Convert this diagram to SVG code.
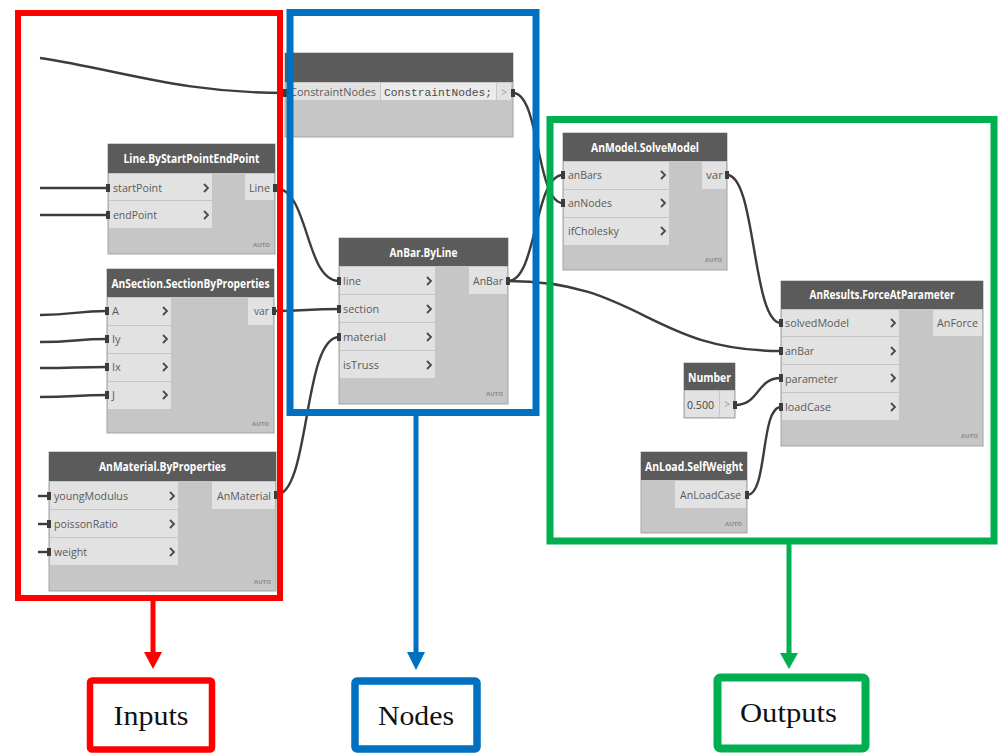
<svg xmlns="http://www.w3.org/2000/svg" width="998" height="753" viewBox="0 0 998 753">
<defs>
<style>
.bg{fill:#ffffff}
.body{fill:#c6c6c6;stroke:#a3a3a3;stroke-width:1}
.hdr{fill:#5b5b5b}
.port{fill:#e2e2e2}
.code{fill:#ebebeb}
.ht{font-family:"Open Sans",sans-serif;font-size:12px;font-weight:bold;fill:#ffffff;text-anchor:middle}
.pt{font-family:"Open Sans",sans-serif;font-size:11px;fill:#5a5a5a}
.mono{font-family:"Liberation Mono",monospace;font-size:11px;fill:#4a4a4a}
.gt{font-family:"Open Sans",sans-serif;font-size:10px;fill:#9a9a9a;text-anchor:middle}
.auto{font-family:"Open Sans",sans-serif;font-size:6px;font-weight:bold;fill:#8a8a8a;text-anchor:end}
.chev{fill:none;stroke:#4a4a4a;stroke-width:1.8}
.wire{fill:none;stroke:#3c3c3c;stroke-width:2.4}
.nub{fill:#3c3c3c}
.lbl{font-family:"Liberation Serif",serif;font-size:28px;fill:#111111;text-anchor:middle}
</style>
</defs>
<rect class="bg" x="0" y="0" width="998" height="753"/>

<g id="connectors">
<path class="wire" d="M40,58 C120,70 180,93 285,93"/>
<path class="wire" d="M40,188 L108,188"/>
<path class="wire" d="M40,215 L108,215"/>
<path class="wire" d="M40,315 C75,315 75,311 107,311"/>
<path class="wire" d="M40,342 C75,342 75,339 107,339"/>
<path class="wire" d="M40,368 C75,368 75,367 107,367"/>
<path class="wire" d="M40,397 C75,397 75,395 107,395"/>
<path class="wire" d="M38,496 L49,496"/>
<path class="wire" d="M38,524 L49,524"/>
<path class="wire" d="M38,552 L49,552"/>
<path class="wire" d="M275,188 C309,188 305,281 339,281"/>
<path class="wire" d="M274,311 C306,311 306,309 339,309"/>
<path class="wire" d="M276,495 C310,495 303,337 339,337"/>
<path class="wire" d="M513,93 C540,93 536,203 563,203"/>
<path class="wire" d="M508,281 C537,281 534,175 563,175"/>
<path class="wire" d="M508,281 C640,281 650,351 781,351"/>
<path class="wire" d="M727,175 C756,175 752,323 781,323"/>
<path class="wire" d="M735,405 C760,405 756,378 781,378"/>
<path class="wire" d="M747,495 C768,495 760,407 781,407"/>
</g>

<g id="node-constraint">
<rect class="body" x="285" y="53" width="228" height="84"/>
<rect class="hdr" x="285" y="53" width="228" height="29"/>
<rect class="port" x="286" y="83" width="94" height="17"/>
<rect class="code" x="381" y="83" width="115" height="17"/>
<rect class="port" x="497" y="83" width="14" height="17"/>
<text class="pt" x="290" y="96" textLength="86" lengthAdjust="spacingAndGlyphs">ConstraintNodes</text>
<text class="mono" x="384" y="96" textLength="108" lengthAdjust="spacingAndGlyphs">ConstraintNodes;</text>
<text class="gt" x="504" y="96">&gt;</text>
<rect class="nub" x="283" y="89" width="4" height="8"/>
<rect class="nub" x="511" y="89" width="4" height="8"/>
</g>

<g id="node-line">
<rect class="body" x="108" y="144" width="167" height="110"/>
<rect class="hdr" x="108" y="144" width="167" height="29"/>
<text class="ht" x="191.5" y="163" textLength="136" lengthAdjust="spacingAndGlyphs">Line.ByStartPointEndPoint</text>
<rect class="port" x="109" y="174" width="103" height="26"/>
<rect class="port" x="109" y="201" width="103" height="27"/>
<text class="pt" x="113" y="192" textLength="49" lengthAdjust="spacingAndGlyphs">startPoint</text>
<text class="pt" x="113" y="219" textLength="44" lengthAdjust="spacingAndGlyphs">endPoint</text>
<polyline class="chev" points="204,184 208,188 204,192"/>
<polyline class="chev" points="204,211 208,215 204,219"/>
<rect class="port" x="245" y="174" width="29" height="26"/>
<text class="pt" x="249" y="192" textLength="21" lengthAdjust="spacingAndGlyphs">Line</text>
<rect class="nub" x="106" y="184" width="4" height="8"/>
<rect class="nub" x="106" y="211" width="4" height="8"/>
<rect class="nub" x="273" y="184" width="4" height="8"/>
<text class="auto" x="270" y="247">AUTO</text>
</g>

<g id="node-section">
<rect class="body" x="107" y="269" width="167" height="164"/>
<rect class="hdr" x="107" y="269" width="167" height="28"/>
<text class="ht" x="190.5" y="287.5" textLength="158" lengthAdjust="spacingAndGlyphs">AnSection.SectionByProperties</text>
<rect class="port" x="108" y="298" width="63" height="27"/>
<rect class="port" x="108" y="326" width="63" height="27"/>
<rect class="port" x="108" y="354" width="63" height="27"/>
<rect class="port" x="108" y="382" width="63" height="27"/>
<text class="pt" x="112" y="315">A</text>
<text class="pt" x="112" y="343">Iy</text>
<text class="pt" x="112" y="371">Ix</text>
<text class="pt" x="112" y="399">J</text>
<polyline class="chev" points="163,307 167,311 163,315"/>
<polyline class="chev" points="163,335 167,339 163,343"/>
<polyline class="chev" points="163,363 167,367 163,371"/>
<polyline class="chev" points="163,391 167,395 163,399"/>
<rect class="port" x="248" y="298" width="25" height="27"/>
<text class="pt" x="254" y="315" textLength="15" lengthAdjust="spacingAndGlyphs">var</text>
<rect class="nub" x="105" y="307" width="4" height="8"/>
<rect class="nub" x="105" y="335" width="4" height="8"/>
<rect class="nub" x="105" y="363" width="4" height="8"/>
<rect class="nub" x="105" y="391" width="4" height="8"/>
<rect class="nub" x="272" y="307" width="4" height="8"/>
<text class="auto" x="269" y="426">AUTO</text>
</g>

<g id="node-material">
<rect class="body" x="49" y="452" width="227" height="139"/>
<rect class="hdr" x="49" y="452" width="227" height="29"/>
<text class="ht" x="162.5" y="471" textLength="127" lengthAdjust="spacingAndGlyphs">AnMaterial.ByProperties</text>
<rect class="port" x="50" y="482" width="128" height="27"/>
<rect class="port" x="50" y="510" width="128" height="27"/>
<rect class="port" x="50" y="538" width="128" height="27"/>
<text class="pt" x="54" y="500" textLength="74" lengthAdjust="spacingAndGlyphs">youngModulus</text>
<text class="pt" x="54" y="528" textLength="64" lengthAdjust="spacingAndGlyphs">poissonRatio</text>
<text class="pt" x="54" y="556" textLength="33" lengthAdjust="spacingAndGlyphs">weight</text>
<polyline class="chev" points="170,492 174,496 170,500"/>
<polyline class="chev" points="170,520 174,524 170,528"/>
<polyline class="chev" points="170,548 174,552 170,556"/>
<rect class="port" x="212" y="482" width="63" height="27"/>
<text class="pt" x="217" y="500" textLength="54" lengthAdjust="spacingAndGlyphs">AnMaterial</text>
<rect class="nub" x="47" y="492" width="4" height="8"/>
<rect class="nub" x="47" y="520" width="4" height="8"/>
<rect class="nub" x="47" y="548" width="4" height="8"/>
<rect class="nub" x="274" y="491" width="4" height="8"/>
<text class="auto" x="271" y="584">AUTO</text>
</g>

<g id="node-anbar">
<rect class="body" x="339" y="238" width="169" height="166"/>
<rect class="hdr" x="339" y="238" width="169" height="28"/>
<text class="ht" x="423.5" y="256.5" textLength="68" lengthAdjust="spacingAndGlyphs">AnBar.ByLine</text>
<rect class="port" x="340" y="267" width="95" height="27"/>
<rect class="port" x="340" y="295" width="95" height="27"/>
<rect class="port" x="340" y="323" width="95" height="27"/>
<rect class="port" x="340" y="351" width="95" height="27"/>
<text class="pt" x="343" y="285" textLength="18" lengthAdjust="spacingAndGlyphs">line</text>
<text class="pt" x="343" y="313" textLength="36" lengthAdjust="spacingAndGlyphs">section</text>
<text class="pt" x="343" y="341" textLength="43" lengthAdjust="spacingAndGlyphs">material</text>
<text class="pt" x="343" y="369" textLength="36" lengthAdjust="spacingAndGlyphs">isTruss</text>
<polyline class="chev" points="427,277 431,281 427,285"/>
<polyline class="chev" points="427,305 431,309 427,313"/>
<polyline class="chev" points="427,333 431,337 427,341"/>
<polyline class="chev" points="427,361 431,365 427,369"/>
<rect class="port" x="469" y="267" width="38" height="27"/>
<text class="pt" x="473" y="285" textLength="30" lengthAdjust="spacingAndGlyphs">AnBar</text>
<rect class="nub" x="337" y="277" width="4" height="8"/>
<rect class="nub" x="337" y="305" width="4" height="8"/>
<rect class="nub" x="337" y="333" width="4" height="8"/>
<rect class="nub" x="506" y="277" width="4" height="8"/>
<text class="auto" x="503" y="396">AUTO</text>
</g>

<g id="node-solve">
<rect class="body" x="563" y="133" width="164" height="137"/>
<rect class="hdr" x="563" y="133" width="164" height="28"/>
<text class="ht" x="645" y="151.5" textLength="108" lengthAdjust="spacingAndGlyphs">AnModel.SolveModel</text>
<rect class="port" x="564" y="162" width="105" height="27"/>
<rect class="port" x="564" y="190" width="105" height="27"/>
<rect class="port" x="564" y="218" width="105" height="27"/>
<text class="pt" x="568" y="179" textLength="34" lengthAdjust="spacingAndGlyphs">anBars</text>
<text class="pt" x="568" y="207" textLength="44" lengthAdjust="spacingAndGlyphs">anNodes</text>
<text class="pt" x="568" y="235" textLength="51" lengthAdjust="spacingAndGlyphs">ifCholesky</text>
<polyline class="chev" points="661,171 665,175 661,179"/>
<polyline class="chev" points="661,199 665,203 661,207"/>
<polyline class="chev" points="661,227 665,231 661,235"/>
<rect class="port" x="702" y="162" width="24" height="27"/>
<text class="pt" x="706" y="179" textLength="17" lengthAdjust="spacingAndGlyphs">var</text>
<rect class="nub" x="561" y="171" width="4" height="8"/>
<rect class="nub" x="561" y="199" width="4" height="8"/>
<rect class="nub" x="725" y="171" width="4" height="8"/>
<text class="auto" x="722" y="262">AUTO</text>
</g>

<g id="node-results">
<rect class="body" x="781" y="281" width="202" height="165"/>
<rect class="hdr" x="781" y="281" width="202" height="28"/>
<text class="ht" x="882" y="299" textLength="145" lengthAdjust="spacingAndGlyphs">AnResults.ForceAtParameter</text>
<rect class="port" x="782" y="310" width="117" height="26"/>
<rect class="port" x="782" y="337" width="117" height="27"/>
<rect class="port" x="782" y="365" width="117" height="27"/>
<rect class="port" x="782" y="393" width="117" height="27"/>
<text class="pt" x="785" y="327" textLength="64" lengthAdjust="spacingAndGlyphs">solvedModel</text>
<text class="pt" x="785" y="355" textLength="29" lengthAdjust="spacingAndGlyphs">anBar</text>
<text class="pt" x="785" y="382.5" textLength="53" lengthAdjust="spacingAndGlyphs">parameter</text>
<text class="pt" x="785" y="411" textLength="46" lengthAdjust="spacingAndGlyphs">loadCase</text>
<polyline class="chev" points="891,319 895,323 891,327"/>
<polyline class="chev" points="891,347 895,351 891,355"/>
<polyline class="chev" points="891,374 895,378 891,382"/>
<polyline class="chev" points="891,403 895,407 891,411"/>
<rect class="port" x="933" y="310" width="49" height="26"/>
<text class="pt" x="937" y="327" textLength="41" lengthAdjust="spacingAndGlyphs">AnForce</text>
<rect class="nub" x="779" y="319" width="4" height="8"/>
<rect class="nub" x="779" y="347" width="4" height="8"/>
<rect class="nub" x="779" y="374" width="4" height="8"/>
<rect class="nub" x="779" y="403" width="4" height="8"/>
<text class="auto" x="978" y="438">AUTO</text>
</g>

<g id="node-number">
<rect class="body" x="684" y="363" width="51" height="55"/>
<rect class="hdr" x="684" y="363" width="51" height="27"/>
<text class="ht" x="709.5" y="381.5" textLength="43" lengthAdjust="spacingAndGlyphs">Number</text>
<rect class="port" x="685" y="391" width="34" height="26"/>
<rect class="port" x="720" y="391" width="14" height="26"/>
<text class="pt" x="687" y="408.5" textLength="27" lengthAdjust="spacingAndGlyphs" style="fill:#444">0.500</text>
<text class="gt" x="727" y="408">&gt;</text>
<rect class="nub" x="733" y="401" width="4" height="8"/>
</g>

<g id="node-selfweight">
<rect class="body" x="641" y="452" width="106" height="81"/>
<rect class="hdr" x="641" y="452" width="106" height="28"/>
<text class="ht" x="694" y="470.5" textLength="98" lengthAdjust="spacingAndGlyphs">AnLoad.SelfWeight</text>
<rect class="port" x="675" y="481" width="71" height="27"/>
<text class="pt" x="680" y="499" textLength="61" lengthAdjust="spacingAndGlyphs">AnLoadCase</text>
<rect class="nub" x="745" y="491" width="4" height="8"/>
<text class="auto" x="742" y="526">AUTO</text>
</g>

<g id="group-inputs">
<rect x="18" y="13" width="262" height="585" fill="none" stroke="#ff0000" stroke-width="6"/>
<line x1="153" y1="600" x2="153" y2="653" stroke="#ff0000" stroke-width="5"/>
<polygon points="144,652 162,652 153,669" fill="#ff0000"/>
</g>
<g id="group-nodes">
<rect x="290" y="12.5" width="246" height="400" fill="none" stroke="#0070c0" stroke-width="7"/>
<line x1="416" y1="415" x2="416" y2="653" stroke="#0070c0" stroke-width="5"/>
<polygon points="407,652 425,652 416,670" fill="#0070c0"/>
</g>
<g id="group-outputs">
<rect x="550" y="119.5" width="444" height="421.5" fill="none" stroke="#00b050" stroke-width="7"/>
<line x1="789" y1="544" x2="789" y2="654" stroke="#00b050" stroke-width="5"/>
<polygon points="780,653 798,653 789,669" fill="#00b050"/>
</g>

<g id="label-inputs">
<rect x="90" y="680.5" width="122" height="69" rx="2" fill="#ffffff" stroke="#ff0000" stroke-width="6.5"/>
<text class="lbl" x="151" y="725" textLength="75" lengthAdjust="spacingAndGlyphs">Inputs</text>
</g>
<g id="label-nodes">
<rect x="355" y="681" width="122" height="68" rx="2" fill="#ffffff" stroke="#0070c0" stroke-width="7.5"/>
<text class="lbl" x="416" y="725" textLength="76" lengthAdjust="spacingAndGlyphs">Nodes</text>
</g>
<g id="label-outputs">
<rect x="717.5" y="677.5" width="148" height="71" rx="3" fill="#ffffff" stroke="#00b050" stroke-width="8"/>
<text class="lbl" x="788.5" y="722" textLength="97" lengthAdjust="spacingAndGlyphs">Outputs</text>
</g>
</svg>
